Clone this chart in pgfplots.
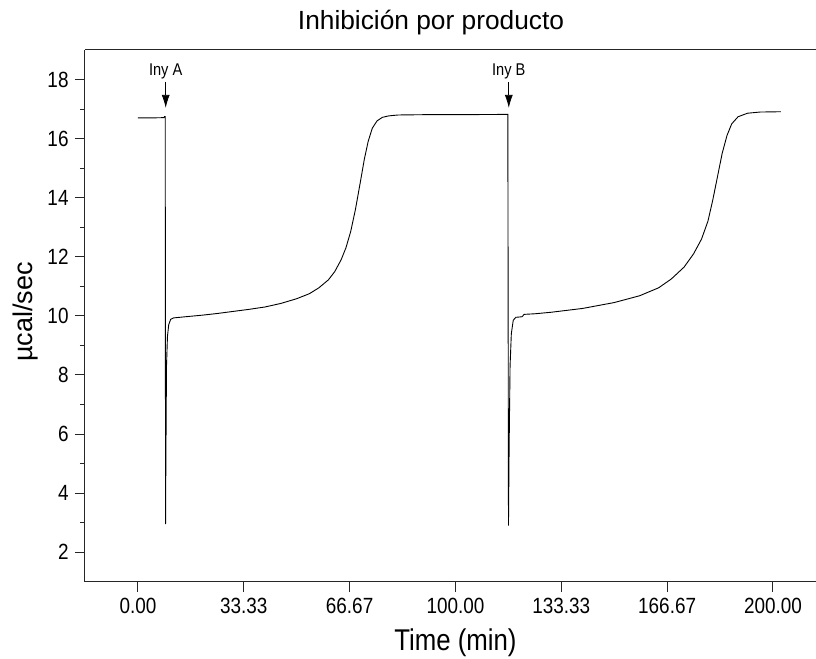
\documentclass[border=0pt]{standalone}
\usepackage{fontspec}
\setmainfont{Liberation Sans}
\usepackage{pgfplots}
\pgfplotsset{compat=1.18}
\usetikzlibrary{arrows.meta}

\begin{document}
\begin{tikzpicture}
\begin{axis}[
  scale only axis,
  width=740.9bp, height=531.7bp,
  xmin=-16.667, xmax=216.667,
  ymin=1, ymax=19,
  axis x line=box, axis y line=left,
  axis line style={-, black!85, line width=1bp},
  xtick pos=left, ytick pos=left,
  tick align=outside,
  major tick length=10bp, minor tick length=5bp,
  every tick/.style={black!85, line width=1bp},
  xtick={0,33.333,66.667,100,133.333,166.667,200},
  xticklabels={0.00,33.33,66.67,100.00,133.33,166.67,200.00},
  ytick={2,4,6,8,10,12,14,16,18},
  yticklabels={2,4,6,8,10,12,14,16,18},
  minor x tick num=1, minor y tick num=1,
  ticklabel style={font=\fontsize{22bp}{25bp}\selectfont, xscale=0.86},
  xticklabel style={yshift=-3bp},
  yticklabel style={xshift=-4bp},
  title={Inhibición por producto},
  title style={font=\fontsize{26.3bp}{30bp}\selectfont, at={(rel axis cs:0.467,1)}, anchor=base, yshift=15bp},
  xlabel={Time (min)},
  xlabel style={font=\fontsize{30bp}{34bp}\selectfont, xscale=0.86, at={(rel axis cs:0.5,0)}, anchor=base, yshift=-69bp},
  ylabel={µcal/sec},
  ylabel style={font=\fontsize{27bp}{31bp}\selectfont, at={([xshift=-52bp]rel axis cs:0,0.507)}, anchor=base},
]
\addplot[black, line width=0.9bp] coordinates {
(0,16.70) (4,16.70) (8.2,16.71) (8.4,16.75) (8.6,16.75)
(8.7,2.95) (8.8,5.0) (9.0,8.3) (9.3,9.3) (9.7,9.7) (10.3,9.88) (11.2,9.93)
(15,9.97) (20,10.02) (25,10.08) (30,10.15) (35,10.22) (40,10.30) (45,10.42)
(50,10.58) (54,10.75) (57,10.95) (60,11.22) (62,11.5) (64,11.9) (65.5,12.3)
(67,12.85) (68.5,13.6) (70,14.5) (71.3,15.3) (72.5,15.9) (73.8,16.35)
(75.3,16.6) (77,16.72) (79,16.77) (82,16.80) (90,16.81) (100,16.81) (116.5,16.82)
(116.7,2.9) (116.9,5.5) (117.2,8.3) (117.6,9.4) (118.2,9.85) (119,9.95)
(121,9.97) (121.6,10.05) (125,10.07) (130,10.12) (140,10.25) (150,10.45)
(158,10.68) (164,10.95) (168,11.25) (172,11.65) (175,12.1) (177.5,12.6)
(179.5,13.2) (181,13.9) (182.5,14.7) (184,15.5) (185.5,16.1) (187,16.5)
(189,16.74) (192,16.86) (196,16.9) (202.5,16.91)
};
\draw[line width=0.8bp, -{Latex[length=13bp,width=8bp]}] (axis cs:8.75,17.9) -- (axis cs:8.75,17.04);
\node[font=\fontsize{17bp}{19bp}\selectfont, xscale=0.86] at (axis cs:8.75,18.29) {Iny A};
\draw[line width=0.8bp, -{Latex[length=13bp,width=8bp]}] (axis cs:116.8,17.9) -- (axis cs:116.8,17.04);
\node[font=\fontsize{17bp}{19bp}\selectfont, xscale=0.86] at (axis cs:116.8,18.29) {Iny B};
\coordinate (sw) at (rel axis cs:0,0);
\end{axis}
\pgfresetboundingbox
\path[use as bounding box] ([shift={(-85bp,-77.3bp)}]sw) rectangle ++(816bp,659bp);
\end{tikzpicture}
\end{document}
